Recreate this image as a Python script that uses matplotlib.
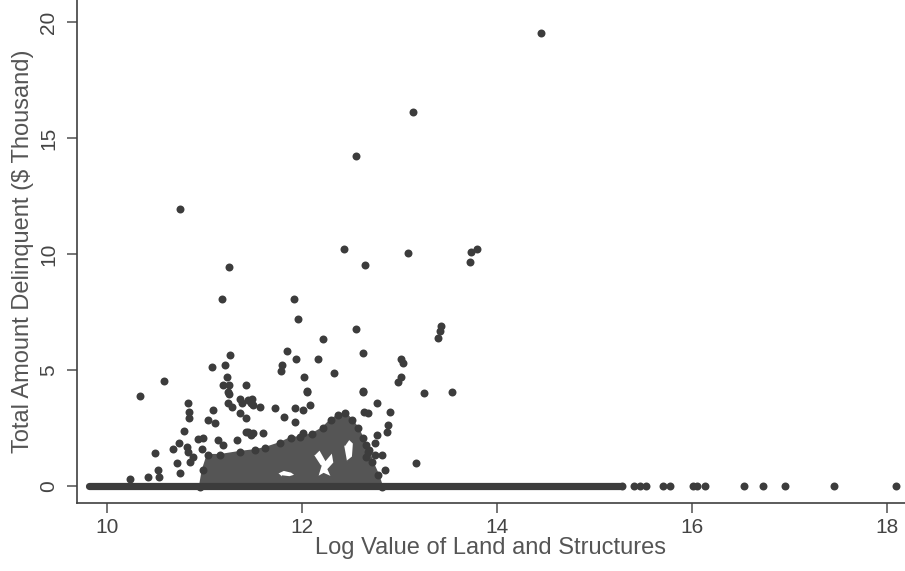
import matplotlib.pyplot as plt
import numpy as np
from matplotlib.path import Path
from matplotlib.patches import PathPatch

plt.rcParams["font.family"] = ["Liberation Sans", "DejaVu Sans"]

# scattered properties with a positive delinquent amount (log value, $ thousand)
outlier_x = [14.45, 13.14, 12.55, 10.75, 12.43, 13.08, 13.72, 13.79, 13.73, 12.64,
             11.25, 11.18, 11.92, 11.96, 12.55, 13.42, 13.41, 13.39, 12.21, 11.84,
             12.62, 11.26, 11.94, 12.16, 13.01, 13.03, 11.07, 11.21, 11.79, 11.78,
             12.02, 12.33, 13.01, 12.98, 10.58, 11.23, 11.19, 11.25, 11.25, 11.42,
             12.05, 12.62, 13.25, 13.54, 10.34, 11.36, 11.48, 13.17]
outlier_y = [19.53, 16.12, 14.22, 11.94, 10.22, 10.04, 9.66, 10.22, 10.09, 9.53,
             9.44, 8.06, 8.06, 7.20, 6.77, 6.90, 6.68, 6.38, 6.34, 5.82,
             5.73, 5.65, 5.47, 5.47, 5.47, 5.30, 5.13, 5.22, 5.22, 4.96,
             4.70, 4.87, 4.70, 4.48, 4.53, 4.70, 4.35, 4.35, 3.97, 4.35,
             4.09, 4.09, 4.01, 4.05, 3.88, 3.75, 3.75, 0.99]

# points around the dense cloud
near_x = [10.23, 10.42, 10.52, 10.49, 10.53, 10.72, 10.75, 10.67, 10.74, 10.82,
          10.83, 10.88, 10.85, 10.79, 10.93, 10.98, 10.97, 10.83, 10.84, 10.84,
          11.03, 11.09, 11.11, 11.14, 11.19, 11.24, 11.28, 11.38, 11.36, 11.42,
          11.47, 11.33, 11.42, 11.47, 11.24, 11.44, 11.50, 11.57, 11.72, 11.81,
          11.93, 12.01, 12.08, 11.93, 12.01, 11.44, 11.50, 11.60, 12.63, 12.67,
          12.77, 12.90, 12.88, 12.87, 12.77, 12.75, 12.65, 12.67, 12.75, 12.82,
          12.65, 12.85, 12.62, 12.05]
near_y = [0.30, 0.39, 0.69, 1.42, 0.39, 0.99, 0.56, 1.60, 1.85, 1.68,
          1.47, 1.25, 1.03, 2.37, 2.03, 2.07, 1.59, 3.58, 3.19, 2.93,
          2.84, 3.28, 2.72, 1.98, 1.77, 3.58, 3.41, 3.58, 3.15, 2.93,
          3.58, 1.98, 2.33, 2.20, 4.05, 3.71, 3.49, 3.41, 3.36, 2.97,
          3.36, 3.28, 3.49, 2.76, 2.28, 2.33, 2.28, 2.28, 3.19, 3.15,
          3.58, 3.19, 2.63, 2.33, 2.20, 1.85, 1.77, 1.47, 1.34, 1.34,
          1.25, 0.69, 4.05, 4.05]

# outline of the dense cloud of points
cloud_x = [10.95, 10.98, 11.03, 11.16, 11.36, 11.52, 11.62, 11.77, 11.88, 11.98,
           12.10, 12.21, 12.29, 12.37, 12.44, 12.51, 12.57, 12.62, 12.68, 12.72,
           12.78, 12.82]
cloud_y = [-0.04, 0.69, 1.34, 1.34, 1.47, 1.55, 1.64, 1.85, 2.07, 2.11,
           2.24, 2.50, 2.84, 3.06, 3.15, 2.84, 2.50, 2.07, 1.55, 1.03,
           0.47, -0.04]

# empty gaps inside the cloud
gap_a_x = [11.75, 11.81, 11.89, 11.94, 11.87, 11.79]
gap_a_y = [0.58, 0.70, 0.62, 0.47, 0.38, 0.42]
gap_b_x = [12.12, 12.18, 12.24, 12.31, 12.33, 12.27, 12.31, 12.22, 12.15, 12.19]
gap_b_y = [1.35, 1.60, 1.15, 1.50, 1.00, 0.72, 0.35, 0.52, 0.35, 0.90]
gap_c_x = [12.43, 12.48, 12.53, 12.52, 12.46]
gap_c_y = [1.75, 2.05, 1.85, 1.25, 1.05]

# zero amount: continuous band plus the isolated high-value properties
zero_start, zero_end = 9.81, 15.26
zero_x = [15.28, 15.40, 15.46, 15.52, 15.70, 15.77, 16.01, 16.05, 16.13,
          16.53, 16.72, 16.95, 17.45, 18.09]

dot = "#3c3c3c"
cloud = "#555555"

fig = plt.figure(figsize=(9.05, 5.71), dpi=100)
ax = fig.add_axes([0.085, 0.1191, 0.915, 0.8809])

# dense cloud with its gaps
verts = list(zip(cloud_x, cloud_y))
codes = [Path.MOVETO] + [Path.LINETO] * (len(verts) - 1)
for gx, gy in [(gap_a_x, gap_a_y), (gap_b_x, gap_b_y), (gap_c_x, gap_c_y)]:
    g = list(zip(gx, gy))[::-1]
    verts += g
    codes += [Path.MOVETO] + [Path.LINETO] * (len(g) - 1)
ax.add_patch(PathPatch(Path(verts, codes), facecolor=cloud, edgecolor=cloud, lw=1.5))
ax.scatter(cloud_x, cloud_y, s=33, color=dot, lw=0)

ax.plot([zero_start, zero_end], [0, 0], color=dot, lw=5.2, solid_capstyle="round")
ax.scatter(zero_x, np.zeros(len(zero_x)), s=33, color=dot, lw=0)
ax.scatter(near_x, near_y, s=33, color=dot, lw=0)
ax.scatter(outlier_x, outlier_y, s=33, color=dot, lw=0)

ax.set_xlim(9.69, 18.18)
ax.set_ylim(-0.73, 20.95)
ax.set_xticks([10, 12, 14, 16, 18])
ax.set_yticks([0, 5, 10, 15, 20])

for s in ["top", "right"]:
    ax.spines[s].set_visible(False)
for s in ["left", "bottom"]:
    ax.spines[s].set_color("#404040")
    ax.spines[s].set_linewidth(1.2)

ax.tick_params(axis="both", length=7, width=1.1, color="#505050",
               labelsize=15, labelcolor="#444444")
ax.tick_params(axis="x", pad=4)
ax.tick_params(axis="y", pad=6.5)
for lab in ax.get_yticklabels():
    lab.set_rotation(90)
    lab.set_va("center")

ax.set_xlabel("Log Value of Land and Structures", fontsize=17, color="#555555", labelpad=0)
ax.set_ylabel("Total Amount Delinquent ($ Thousand)", fontsize=17, color="#555555", labelpad=4)

fig.savefig("out.png", dpi=100)
